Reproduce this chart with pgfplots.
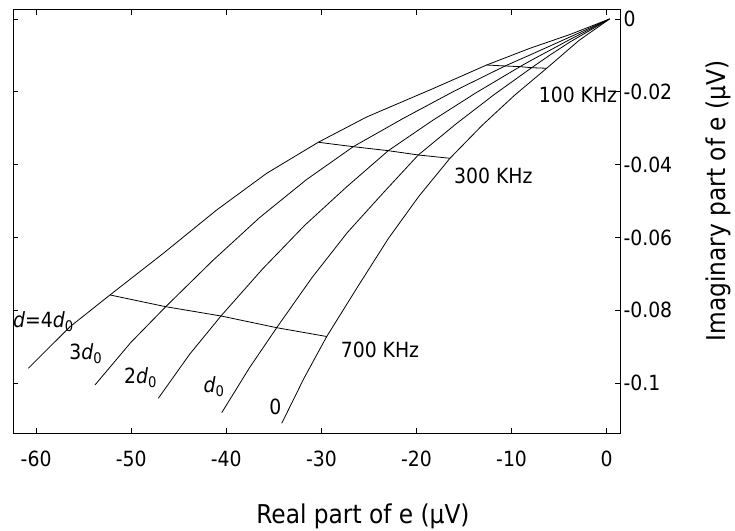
\documentclass[border=0pt]{standalone}
\usepackage{fontspec}
\setmainfont{DejaVu Sans Condensed}
\usepackage{pgfplots}
\pgfplotsset{compat=1.18}

\newcommand{\tickfont}{\fontsize{21}{25}\selectfont}
\newcommand{\labfont}{\fontsize{26}{30}\selectfont}

\begin{document}
\begin{tikzpicture}
\path[use as bounding box] (-13bp,-98bp) rectangle (722bp,433bp);
\begin{axis}[
    scale only axis,
    width=607bp, height=423bp,
    xmin=-62.43, xmax=1.40,
    ymin=-0.11374, ymax=0.00247,
    axis line style={line width=1bp},
    tick align=inside,
    major tick length=5bp,
    tick style={line width=0.8bp, black},
    xtick={-60,-50,-40,-30,-20,-10,0},
    xticklabels={-60,-50,-40,-30,-20,-10,0},
    ytick={0,-0.02,-0.04,-0.06,-0.08,-0.1},
    yticklabels={0,-0.02,-0.04,-0.06,-0.08,-0.1},
    scaled y ticks=false,
    yticklabel pos=right,
    ticklabel style={font=\tickfont},
    xticklabel style={yshift=-14bp},
    xlabel={Real part of e (μV)},
    ylabel={Imaginary part of e (μV)},
    label style={font=\labfont},
    xlabel style={at={(axis description cs:0.5766,-0.196)}, anchor=center},
    ylabel style={at={(axis description cs:1.1614,0.5485)}, anchor=center},
    curve/.style={black, line width=0.8bp, mark=none},
    clip=false,
]
% d = 4d0
\addplot[curve] coordinates {
    (0.3,0) (-3.86,-0.00426) (-8.07,-0.00805) (-12.62,-0.01264)
    (-18.23,-0.01909) (-25.24,-0.02692) (-30.33,-0.03387) (-35.75,-0.04239)
    (-41.01,-0.05247) (-46.62,-0.06437) (-52.23,-0.07582) (-56.43,-0.08453)
    (-60.82,-0.09596)
};
% 3d0
\addplot[curve] coordinates {
    (0.3,0) (-3.86,-0.00495) (-8.07,-0.00989) (-10.69,-0.01291)
    (-16.01,-0.01978) (-21.32,-0.0272) (-26.65,-0.03508) (-31.58,-0.04415)
    (-36.51,-0.05459) (-41.44,-0.0664) (-46.37,-0.07904) (-50.08,-0.08898)
    (-53.81,-0.10055)
};
% 2d0
\addplot[curve] coordinates {
    (0.3,0) (-3.86,-0.00563) (-8.07,-0.01154) (-9.12,-0.0131)
    (-13.73,-0.02025) (-18.35,-0.02794) (-22.97,-0.03618) (-27.36,-0.04615)
    (-31.76,-0.0567) (-36.16,-0.0686) (-40.56,-0.08159) (-43.85,-0.09209)
    (-47.15,-0.1042)
};
% d0
\addplot[curve] coordinates {
    (0.3,0) (-3.86,-0.00632) (-5.96,-0.00989) (-7.89,-0.01338)
    (-11.86,-0.02082) (-15.84,-0.02882) (-19.81,-0.03736) (-23.53,-0.04786)
    (-27.26,-0.05863) (-30.98,-0.07102) (-34.7,-0.08481) (-37.59,-0.09593)
    (-40.48,-0.10816)
};
% 0
\addplot[curve] coordinates {
    (0.3,0) (-2.89,-0.00585) (-6.31,-0.01354)
    (-9.69,-0.02096) (-13.09,-0.0292) (-16.48,-0.03827) (-19.72,-0.0486)
    (-22.95,-0.06027) (-26.2,-0.07363) (-29.44,-0.08723) (-31.81,-0.0986)
    (-34.17,-0.11107)
};
% constant frequency lines
\addplot[curve] coordinates {(-12.62,-0.01264) (-10.69,-0.01291) (-9.12,-0.0131) (-7.89,-0.01338) (-6.31,-0.01354)};
\addplot[curve] coordinates {(-30.33,-0.03387) (-26.65,-0.03508) (-22.97,-0.03618) (-19.81,-0.03736) (-16.48,-0.03827)};
\addplot[curve] coordinates {(-52.23,-0.07582) (-46.37,-0.07904) (-40.56,-0.08159) (-34.7,-0.08481) (-29.44,-0.08723)};

\node[font=\tickfont] at (axis cs:-3.02,-0.02096) {100 KHz};
\node[font=\tickfont] at (axis cs:-11.92,-0.04308) {300 KHz};
\node[font=\tickfont] at (axis cs:-23.84,-0.09093) {700 KHz};
\node[font=\tickfont] at (axis cs:-59.22,-0.0832) {\textit{d}=4\textit{d}\textsubscript{0}};
\node[font=\tickfont] at (axis cs:-54.77,-0.092) {3\textit{d}\textsubscript{0}};
\node[font=\tickfont] at (axis cs:-49.02,-0.0986) {2\textit{d}\textsubscript{0}};
\node[font=\tickfont] at (axis cs:-41.29,-0.1011) {\textit{d}\textsubscript{0}};
\node[font=\tickfont] at (axis cs:-34.83,-0.1065) {0};
\end{axis}
\end{tikzpicture}
\end{document}
